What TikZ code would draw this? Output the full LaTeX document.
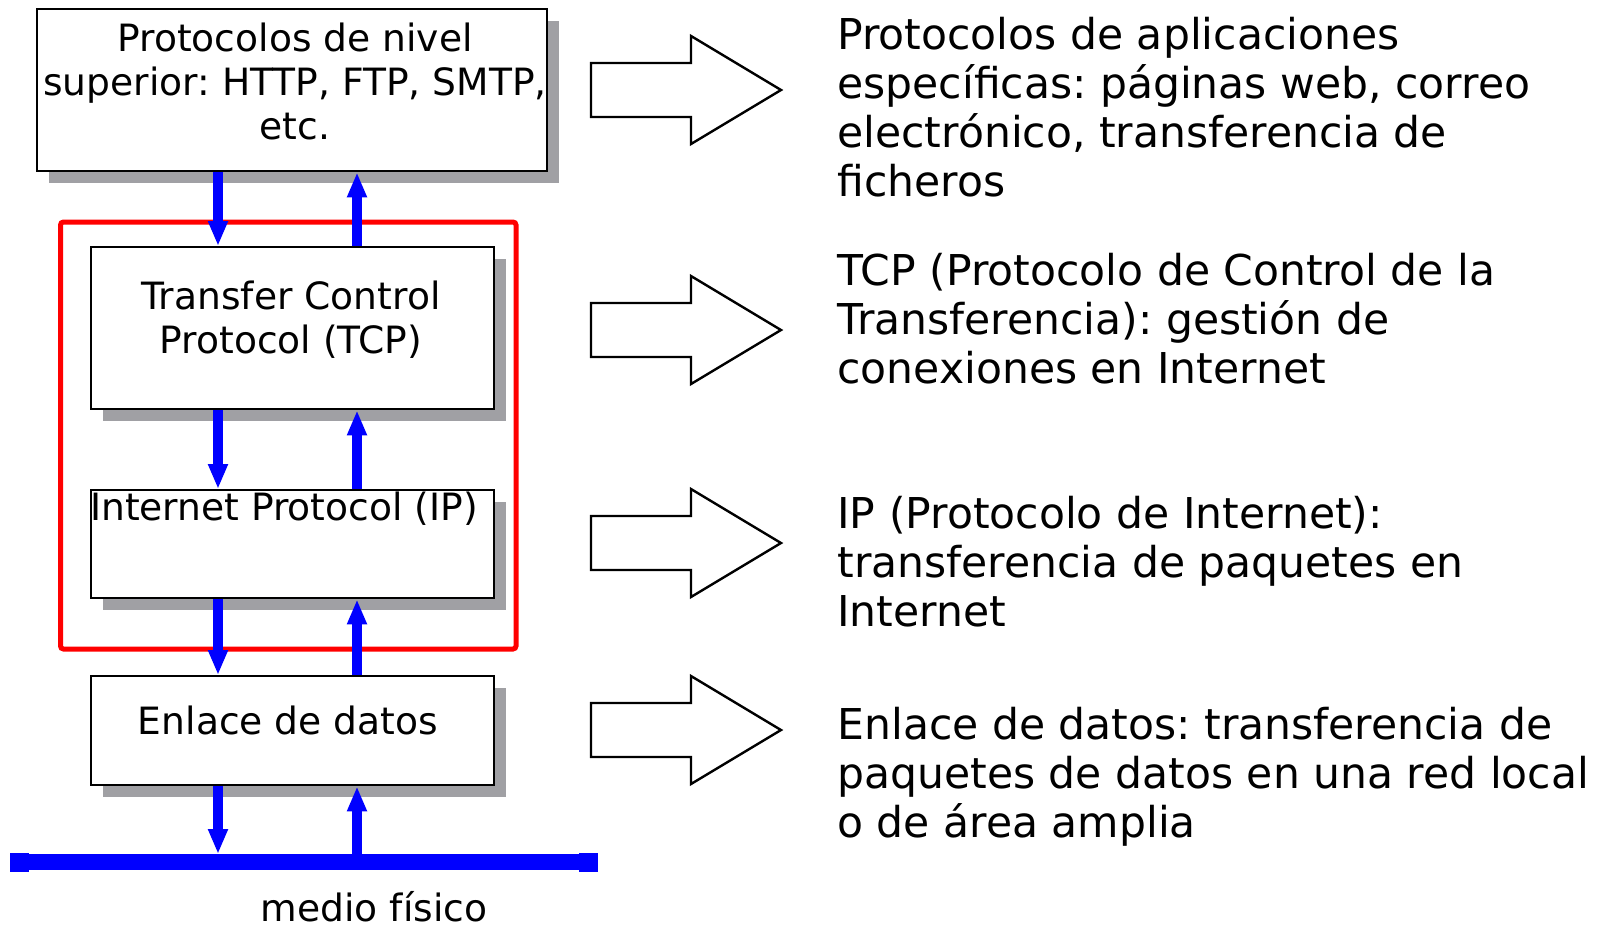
\documentclass[tikz,border=0pt]{standalone}
\usepackage{fontspec}
\setmainfont{DejaVu Sans}
\usetikzlibrary{arrows.meta,shadows}
\definecolor{shadowgray}{RGB}{160,160,164}
\frenchspacing
\begin{document}
\begin{tikzpicture}[x=0.5pt,y=-0.5pt,
  box/.style={draw=black,line width=1.2pt,fill=white,inner sep=0pt,anchor=north west,
    drop shadow={shadow xshift=6pt,shadow yshift=-6pt,fill=shadowgray,opacity=1}},
  boxtext/.style={inner sep=0pt,align=center,font=\fontsize{18.8}{22}\selectfont},
  desc/.style={inner sep=0pt,anchor=north west,align=left,font=\fontsize{21.25}{24.5}\selectfont},
  flow/.style={draw=blue,line width=5.25pt,-{Triangle[length=12.5pt,width=9.25pt]}},
  hollow/.pic={\draw[line width=1.2pt,fill=white,line join=miter]
     (0,-27) -- (100,-27) -- (100,-54) -- (190,0) -- (100,54) -- (100,27) -- (0,27) -- cycle;}
]
\useasboundingbox (0,0) rectangle (1600,927);

% boxes
\node[box,minimum width=255pt,minimum height=81pt] (top) at (36,8) {};
\node[box,minimum width=201.5pt,minimum height=81pt] (tcp) at (90,246) {};
\node[box,minimum width=201.5pt,minimum height=54pt] (ip) at (90,489) {};
\node[box,minimum width=201.5pt,minimum height=54.5pt] (enl) at (90,675) {};

% red frame
\draw[red,line width=2.5pt,rounded corners=1.5pt] (60.5,222) rectangle (516,649);

% box texts
\node[boxtext,anchor=north] (toptext) at (295,23) {Protocolos de nivel\\superior: HTTP, FTP, SMTP,\\etc.};
\node[boxtext,anchor=north] (tcptext) at (291,281) {Transfer Control\\Protocol (TCP)};
\node[boxtext,anchor=base] (iptext) at (284,520) {Internet Protocol (IP)};
\node[boxtext,anchor=base] (enltext) at (288,734) {Enlace de datos};

% bus
\coordinate (busl) at (10,862);
\coordinate (busr) at (598,862);
\coordinate (bustop) at (300,854);
\draw[blue,line width=8pt] (busl) -- (busr);
\fill[blue] (10,853) rectangle (29,872);
\fill[blue] (579,853) rectangle (598,872);
\node[boxtext,anchor=base] (medio) at (374,921) {medio físico};

% flow arrows
\coordinate (dn) at (218,0);
\coordinate (up) at (357,0);
\draw[flow] (top.south -| dn) -- (tcp.north -| dn);
\draw[flow] (tcp.north -| up) -- (top.south -| up);
\draw[flow] (tcp.south -| dn) -- (ip.north -| dn);
\draw[flow] (ip.north -| up) -- (tcp.south -| up);
\draw[flow] (ip.south -| dn) -- (enl.north -| dn);
\draw[flow] (enl.north -| up) -- (ip.south -| up);
\draw[flow] (enl.south -| dn) -- (bustop -| dn);
\draw[flow] (bustop -| up) -- (enl.south -| up);

% hollow arrows
\pic at (591,90) {hollow};
\pic at (591,330) {hollow};
\pic at (591,543) {hollow};
\pic at (591,730) {hollow};

% descriptions
\node[desc] (d1) at (837,17) {Protocolos de aplicaciones\\específicas: páginas web, correo\\electrónico, transferencia de\\ficheros};
\node[desc] (d2) at (837,253) {TCP (Protocolo de Control de la\\Transferencia): gestión de\\conexiones en Internet};
\node[desc] (d3) at (837,496) {IP (Protocolo de Internet):\\transferencia de paquetes en\\Internet};
\node[desc] (d4) at (837,707) {Enlace de datos: transferencia de\\paquetes de datos en una red local\\o de área amplia};
\end{tikzpicture}
\end{document}
